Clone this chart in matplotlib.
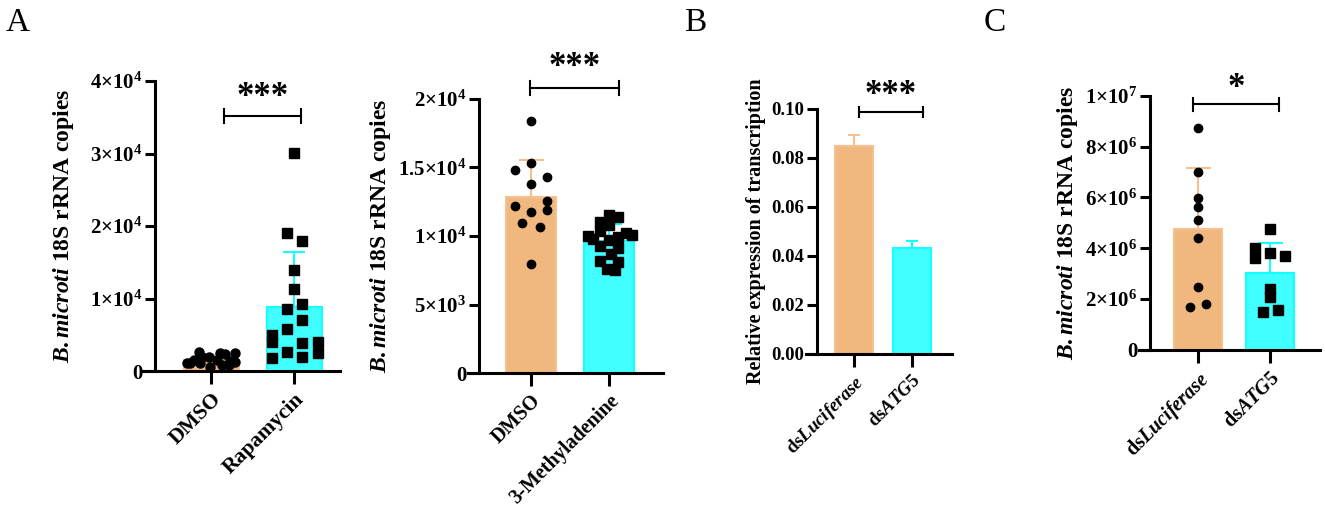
import matplotlib
matplotlib.use('Agg')
import matplotlib.pyplot as plt
import numpy as np

plt.rcParams['font.family'] = ['Liberation Serif', 'DejaVu Serif']
plt.rcParams['font.weight'] = 'bold'
plt.rcParams['mathtext.fontset'] = 'custom'
plt.rcParams['mathtext.rm'] = 'Liberation Serif:bold'
plt.rcParams['mathtext.bf'] = 'Liberation Serif:bold'
plt.rcParams['mathtext.it'] = 'Liberation Serif:italic:bold'
plt.rcParams['mathtext.bfit'] = 'Liberation Serif:italic:bold'

ORANGE = '#F0B77F'
CYAN = '#42FFFF'
ORANGE_EDGE = '#F7C08E'
CYAN_EDGE = '#14FFFF'

# panel A, left: DMSO vs Rapamycin
a1_groups = ['DMSO', 'Rapamycin']
a1_dmso = [2660, 2440, 2530, 2300, 1970, 1890, 1520, 1150, 1060, 1520, 1420, 1290, 600, 830, 830, 1060]
a1_dmso_jit = [-0.15, 0.11, 0.29, 0.17, -0.03, -0.11, -0.21, -0.25, -0.29, 0.07, 0.23, 0.29, -0.01, 0.13, 0.21, -0.13]
a1_rapa = [30100, 19100, 18000, 13900, 11300, 9300, 8600, 7100, 5800, 5000, 4000, 3900, 4000, 2600, 2500, 2000, 1800]
a1_rapa_jit = [0, -0.09, 0.1, 0, 0, 0.1, -0.09, 0.1, -0.09, -0.27, -0.27, 0.1, 0.29, -0.09, 0.29, 0.1, -0.27]

# panel A, right: DMSO vs 3-Methyladenine
a2_groups = ['DMSO', '3-Methyladenine']
a2_dmso = [18390, 14810, 15300, 14300, 13760, 12180, 12520, 11890, 11770, 10960, 10670, 7990]
a2_dmso_jit = [0, -0.21, 0, 0.21, 0, -0.21, 0.21, 0.21, 0, -0.11, 0.11, 0]
a2_3ma = [11500, 11400, 11000, 10800, 10400, 10200, 10100, 10000, 9900, 9800, 9700, 9300, 9100, 8700, 8200, 8100, 7600, 7500]
a2_3ma_jit = [0, 0.12, -0.12, 0, -0.12, 0.22, 0.29, -0.27, 0.12, -0.2, 0, -0.12, 0.12, 0.03, -0.12, 0.12, -0.03, 0.07]

# panel B: relative expression
b_groups = [r'ds$\mathit{Luciferase}$', r'ds$\mathit{ATG5}$']
b_mean = [0.0848, 0.0433]
b_sd = [0.0045, 0.0028]

# panel C: dsLuciferase vs dsATG5
c_groups = [r'ds$\mathit{Luciferase}$', r'ds$\mathit{ATG5}$']
c_luc = [8.72e6, 7.01e6, 5.99e6, 5.64e6, 5.11e6, 4.42e6, 2.49e6, 1.81e6, 1.70e6]
c_luc_jit = [0, 0, 0, 0, 0, 0, 0, 0.11, -0.11]
c_atg5 = [4.74e6, 4.0e6, 3.8e6, 3.7e6, 3.6e6, 2.39e6, 2.1e6, 1.57e6, 1.51e6]
c_atg5_jit = [0, -0.21, 0, 0.21, -0.21, 0, 0, 0.11, -0.1]

ylab_copies = r'$\mathit{B.microti}$ 18S rRNA copies'

fig = plt.figure(figsize=(13.25, 5.14), dpi=100)


def setup(rect, xlim, ylim, spine_pos):
    ax = fig.add_axes(rect)
    ax.set_xlim(*xlim)
    ax.set_ylim(*ylim)
    for s in ['top', 'right']:
        ax.spines[s].set_visible(False)
    ax.spines['left'].set_position(('axes', spine_pos))
    ax.spines['left'].set_linewidth(2.2)
    ax.spines['bottom'].set_linewidth(2.2)
    ax.tick_params(axis='y', width=2.2, length=7, pad=2, direction='out')
    ax.tick_params(axis='x', width=2.2, length=9, pad=4, direction='out')
    return ax


def bars(ax, means, sds, width, caps):
    colors = [ORANGE, CYAN]
    edges = [ORANGE_EDGE, CYAN_EDGE]
    x = np.arange(len(means))
    ax.bar(x, means, width=width, color=colors, edgecolor=edges, linewidth=1.5, zorder=1)
    for i in range(len(means)):
        ax.errorbar(x[i], means[i], yerr=[[0], [sds[i]]], color=edges[i],
                    capsize=caps, elinewidth=1.5, capthick=1.5, zorder=2)


def points(ax, i, vals, jit, marker, ms):
    ax.plot(np.array(jit) + i, vals, linestyle='none', marker=marker, color='black',
            markersize=ms, zorder=3, clip_on=False)


def bracket(ax, x0, x1, y, h, txt, ty, fs):
    ax.plot([x0, x1], [y, y], color='black', lw=1.5, clip_on=False)
    ax.plot([x0, x0], [y - h, y + h], color='black', lw=1.5, clip_on=False)
    ax.plot([x1, x1], [y - h, y + h], color='black', lw=1.5, clip_on=False)
    ax.text((x0 + x1) / 2, ty, txt, ha='center', va='center', fontsize=fs,
            fontweight='bold', clip_on=False)


def xlabels(ax, labels, fs):
    ax.set_xticks(range(len(labels)))
    ax.set_xticklabels(labels, rotation=45, ha='right', rotation_mode='anchor',
                       fontsize=fs, fontweight='bold')


# ---- A left
ax1 = setup([0.108, 0.2782, 0.1487, 0.5642], (-0.819, 1.554), (0, 4e4), 0.061)
a1_m = [np.mean(a1_dmso), np.mean(a1_rapa)]
a1_s = [np.std(a1_dmso, ddof=1), np.std(a1_rapa, ddof=1)]
bars(ax1, a1_m, a1_s, 0.66, 8)
points(ax1, 0, a1_dmso, a1_dmso_jit, 'o', 6.5)
points(ax1, 1, a1_rapa, a1_rapa_jit, 's', 7)
ax1.set_yticks([0, 1e4, 2e4, 3e4, 4e4])
ax1.set_yticklabels(['0', r'$1{\times}10^{4}$', r'$2{\times}10^{4}$', r'$3{\times}10^{4}$', r'$4{\times}10^{4}$'],
                    fontsize=15)
xlabels(ax1, a1_groups, 15.5)
ax1.set_ylabel(ylab_copies, fontsize=17, fontweight='bold', labelpad=10)
bracket(ax1, 0.16, 1.08, 3.52e4, 0.1e4, '***', 3.77e4, 25)

# ---- A right
ax2 = setup([0.3532, 0.2743, 0.1472, 0.5331], (-0.808, 1.692), (0, 2e4), 0.056)
a2_m = [np.mean(a2_dmso), np.mean(a2_3ma)]
a2_s = [np.std(a2_dmso, ddof=1), np.std(a2_3ma, ddof=1)]
bars(ax2, a2_m, a2_s, 0.65, 9)
points(ax2, 0, a2_dmso, a2_dmso_jit, 'o', 6)
points(ax2, 1, a2_3ma, a2_3ma_jit, 's', 6.5)
ax2.set_yticks([0, 5e3, 1e4, 1.5e4, 2e4])
ax2.set_yticklabels(['0', r'$5{\times}10^{3}$', r'$1{\times}10^{4}$', r'$1.5{\times}10^{4}$', r'$2{\times}10^{4}$'],
                    fontsize=15)
xlabels(ax2, a2_groups, 14.5)
ax2.set_ylabel(ylab_copies, fontsize=17, fontweight='bold', labelpad=4)
bracket(ax2, -0.01, 1.13, 2.08e4, 0.05e4, '***', 2.23e4, 25)

# ---- B
ax3 = setup([0.6083, 0.3113, 0.1102, 0.4767], (-0.828, 1.690), (0, 0.1), 0.075)
bars(ax3, b_mean, b_sd, 0.655, 4)
ax3.set_yticks([0, 0.02, 0.04, 0.06, 0.08, 0.10])
ax3.set_yticklabels(['0.00', '0.02', '0.04', '0.06', '0.08', '0.10'], fontsize=13.5)
xlabels(ax3, b_groups, 13.5)
ax3.set_ylabel('Relative expression of transcription', fontsize=14.5, fontweight='bold', labelpad=4)
bracket(ax3, 0.09, 1.19, 0.0988, 0.002, '***', 0.1055, 25)

# ---- C
ax4 = setup([0.8596, 0.3191, 0.1366, 0.4947], (-0.819, 1.694), (0, 1e7), 0.061)
c_m = [np.mean(c_luc), np.mean(c_atg5)]
c_s = [np.std(c_luc, ddof=1), np.std(c_atg5, ddof=1)]
bars(ax4, c_m, c_s, 0.667, 9)
points(ax4, 0, c_luc, c_luc_jit, 'o', 6)
points(ax4, 1, c_atg5, c_atg5_jit, 's', 6.5)
ax4.set_yticks([0, 2e6, 4e6, 6e6, 8e6, 1e7])
ax4.set_yticklabels(['0', r'$2{\times}10^{6}$', r'$4{\times}10^{6}$', r'$6{\times}10^{6}$', r'$8{\times}10^{6}$', r'$1{\times}10^{7}$'],
                    fontsize=15)
xlabels(ax4, c_groups, 14.5)
ax4.set_ylabel(ylab_copies, fontsize=17, fontweight='bold', labelpad=4)
bracket(ax4, -0.07, 1.12, 0.966e7, 0.025e7, '*', 1.03e7, 25)

# panel letters
for x, letter in [(0.004, 'A'), (0.516, 'B'), (0.742, 'C')]:
    fig.text(x, 0.985, letter, fontsize=24, fontweight='normal', va='top', ha='left')

fig.savefig('out.png', dpi=100)
